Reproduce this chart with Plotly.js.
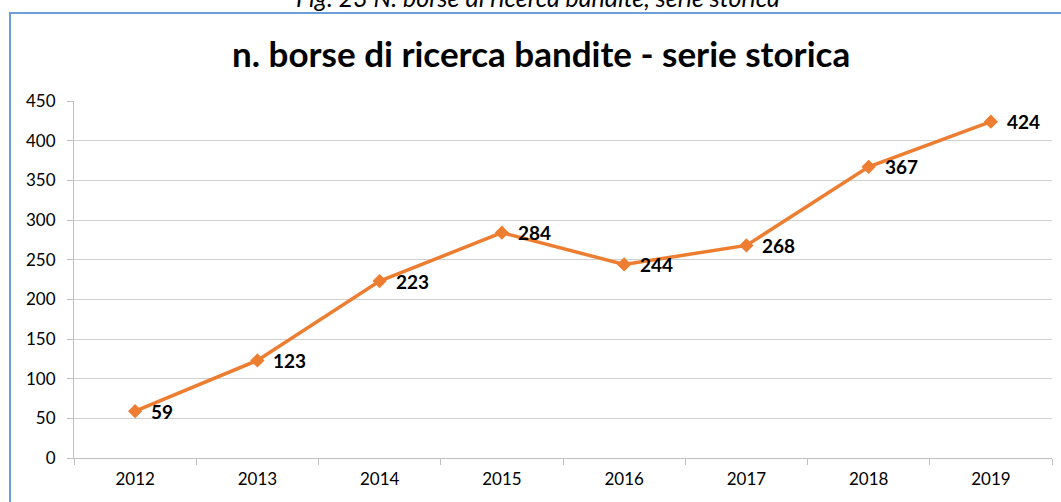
<!DOCTYPE html>
<html>
<head>
<meta charset="utf-8">
<script src="https://cdn.plot.ly/plotly-3.0.1.min.js"></script>
<style>
html,body{margin:0;padding:0;background:#fff;}
#wrap{position:relative;width:1061px;height:502px;overflow:hidden;}
#chart{position:absolute;left:0;top:0;width:1061px;height:502px;}
#frame{position:absolute;left:9px;top:12px;width:1100px;height:600px;border-left:2px solid #6a9fd8;border-top:2px solid #6a9fd8;pointer-events:none;}
</style>
</head>
<body>
<div id="wrap"><div id="chart"></div><div id="frame"></div></div>
<script>
const years = ['2012','2013','2014','2015','2016','2017','2018','2019'];
const borse = [59, 123, 223, 284, 244, 268, 367, 424];
const yTicks = [0, 50, 100, 150, 200, 250, 300, 350, 400, 450];
const chartTitle = 'n. borse di ricerca bandite - serie storica';
const caption = 'Fig. 23 N. borse di ricerca bandite, serie storica';

const orange = '#ED7D31';
const font = 'Lato, "Open Sans", sans-serif';

const trace = {
  x: years, y: borse, type: 'scatter', mode: 'lines+markers',
  line: {color: orange, width: 3.5},
  marker: {symbol: 'diamond', size: 11, color: orange},
  hoverinfo: 'x+y'
};

const labels = years.map((yr, i) => ({
  x: i, y: borse[i], xref: 'x', yref: 'y',
  text: '<b>' + borse[i] + '</b>', showarrow: false,
  xanchor: 'left', yanchor: 'middle', xshift: 14,
  font: {family: font, size: 19, color: '#000'}
}));

labels.push({
  xref: 'paper', yref: 'paper', x: 0.474, y: 1 + 101/357,
  yanchor: 'bottom', xanchor: 'center', showarrow: false,
  text: '<i>' + caption + '</i>', yshift: -14,
  font: {family: font, size: 25, color: '#000'}
});

const layout = {
  width: 1061, height: 502,
  margin: {l: 74, r: 9, t: 101, b: 44},
  paper_bgcolor: 'rgba(0,0,0,0)', plot_bgcolor: '#fff',
  showlegend: false,
  title: {text: '<b>' + chartTitle + '</b>', font: {family: font, size: 35, color: '#000'},
          x: 0.51, xanchor: 'center', y: 0.89, yanchor: 'middle'},
  xaxis: {
    type: 'category', range: [-0.5, 7.5], tickson: 'boundaries',
    showgrid: false, showline: true, linecolor: '#bfbfbf', linewidth: 1,
    ticks: 'outside', ticklen: 6, tickcolor: '#bfbfbf',
    tickfont: {family: font, size: 17, color: '#000'}, ticklabelstandoff: 6,
    fixedrange: true
  },
  yaxis: {
    range: [0, 450], tickvals: yTicks, showgrid: true, gridcolor: '#d0d0d0', gridwidth: 1,
    showline: true, linecolor: '#bfbfbf', linewidth: 1,
    ticks: 'outside', ticklen: 6, tickcolor: '#bfbfbf',
    tickfont: {family: font, size: 17, color: '#000'}, ticklabelstandoff: 8,
    zeroline: false, fixedrange: true
  },
  annotations: labels
};

Plotly.newPlot('chart', [trace], layout, {displayModeBar: false, staticPlot: true});
</script>
</body>
</html>
